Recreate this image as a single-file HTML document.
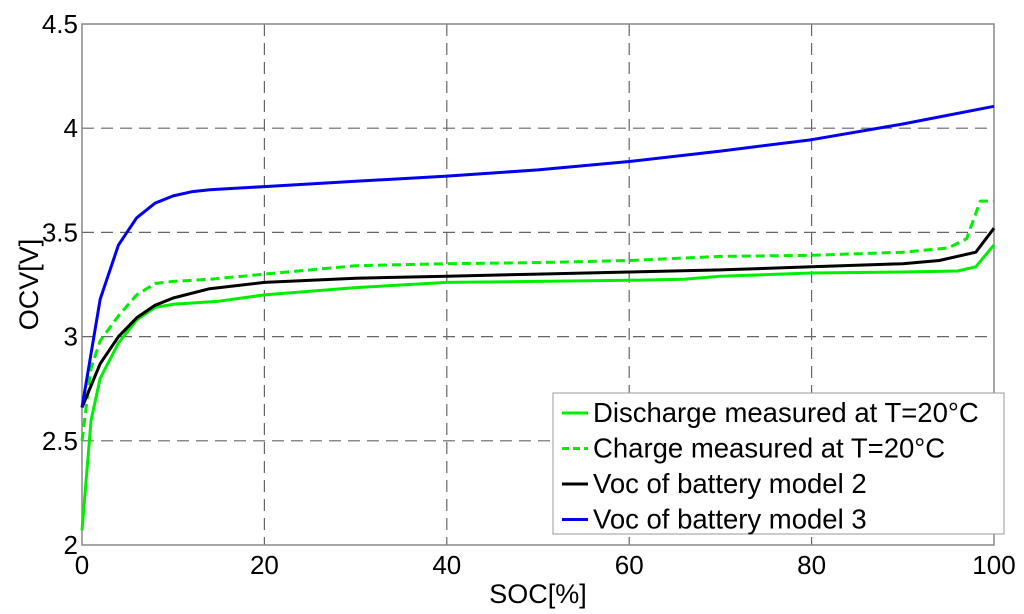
<!DOCTYPE html>
<html><head><meta charset="utf-8"><style>
body{margin:0;background:#fff;}
svg{display:block;font-family:"Liberation Sans",sans-serif;}
</style></head><body>
<svg id="c" width="1024" height="614"></svg>
<script>
const xTicks=[0,20,40,60,80,100];
const yTicks=[2,2.5,3,3.5,4,4.5];
const yTickLabels=["2","2.5","3","3.5","4","4.5"];
const blueX=[0,2,4,6,8,10,12,14,20,30,40,50,60,70,80,90,100];
const blueY=[2.66,3.18,3.44,3.57,3.64,3.675,3.695,3.705,3.72,3.745,3.77,3.80,3.84,3.89,3.945,4.02,4.105];
const blackX=[0,2,4,6,8,10,14,20,30,40,50,60,70,80,90,94,98,100];
const blackY=[2.66,2.87,3.0,3.09,3.15,3.185,3.23,3.26,3.28,3.29,3.30,3.31,3.32,3.335,3.35,3.365,3.405,3.52];
const disX=[0,1,2,4,6,8,10,15,20,30,40,50,60,66,70,80,90,96,98,100];
const disY=[2.07,2.6,2.8,2.97,3.08,3.14,3.155,3.17,3.2,3.235,3.26,3.265,3.27,3.275,3.29,3.305,3.31,3.315,3.335,3.44];
const chX=[0,1,2,4,6,8,10,14,20,30,40,50,60,70,80,90,95,97,98.5,100];
const chY=[2.5,2.85,2.98,3.1,3.2,3.255,3.265,3.275,3.3,3.34,3.35,3.355,3.365,3.385,3.39,3.405,3.425,3.47,3.65,3.65];
const L=82,R=994,T=24,B=545;
const sx=v=>L+(v-0)/100*(R-L);
const sy=v=>B-(v-2)/2.5*(B-T);
const svg=document.getElementById('c');
const NS='http://www.w3.org/2000/svg';
function mk(tag,attrs,parent){const e=document.createElementNS(NS,tag);for(const k in attrs)e.setAttribute(k,attrs[k]);(parent||svg).appendChild(e);return e;}
xTicks.forEach(t=>{if(t>0&&t<100){const g=mk('line',{x1:sx(t),x2:sx(t),y1:T,y2:B,stroke:'#666','stroke-width':1.2,'stroke-dasharray':'12,7'});}});
yTicks.forEach(t=>{if(t>2&&t<4.5){const g=mk('line',{x1:L,x2:R,y1:sy(t),y2:sy(t),stroke:'#666','stroke-width':1.2,'stroke-dasharray':'12,7'});}});
const fr=mk('rect',{x:L,y:T,width:R-L,height:B-T,fill:'none',stroke:'#888','stroke-width':1.5});

xTicks.forEach(t=>{const e=mk('text',{x:sx(t),y:B+29,'text-anchor':'middle','font-size':26});e.textContent=t;});
yTicks.forEach((t,i)=>{const e=mk('text',{x:L-4,y:sy(t)+9,'text-anchor':'end','font-size':26});e.textContent=yTickLabels[i];});
const xt=mk('text',{x:(L+R)/2,y:603,'text-anchor':'middle','font-size':27});xt.textContent='SOC[%]';
const yt=mk('text',{x:0,y:0,'text-anchor':'middle','font-size':27,transform:`translate(38,${(T+B)/2}) rotate(-90)`});yt.textContent='OCV[V]';
function series(xs,ys,color,dash,name){const d=xs.map((x,i)=>(i?'L':'M')+sx(x).toFixed(1)+','+sy(ys[i]).toFixed(1)).join('');const p=mk('path',{d:d,fill:'none',stroke:color,'stroke-width':3,'stroke-linejoin':'round'});if(dash)p.setAttribute('stroke-dasharray',dash);}
series(disX,disY,'#00ee00',null,'discharge-line');
series(chX,chY,'#00ee00','9,5','charge-line');
series(blackX,blackY,'#000',null,'model2-line');
series(blueX,blueY,'#0000ee',null,'model3-line');
const lg=mk('g',{});
mk('rect',{x:553,y:393,width:451,height:141,fill:'#fff',stroke:'#999','stroke-width':1},lg);
const items=[['Discharge measured at T=20°C','#00ee00',null],['Charge measured at T=20°C','#00ee00','7,4'],['Voc of battery model 2','#000',null],['Voc of battery model 3','#0000ee',null]];
items.forEach((it,i)=>{const y=413+i*35.5;const ln=mk('line',{x1:562,x2:588,y1:y,y2:y,stroke:it[1],'stroke-width':3},lg);if(it[2])ln.setAttribute('stroke-dasharray',it[2]);const t=mk('text',{x:593,y:y+9,'font-size':27.5},lg);t.textContent=it[0];});
</script>
</body></html>
